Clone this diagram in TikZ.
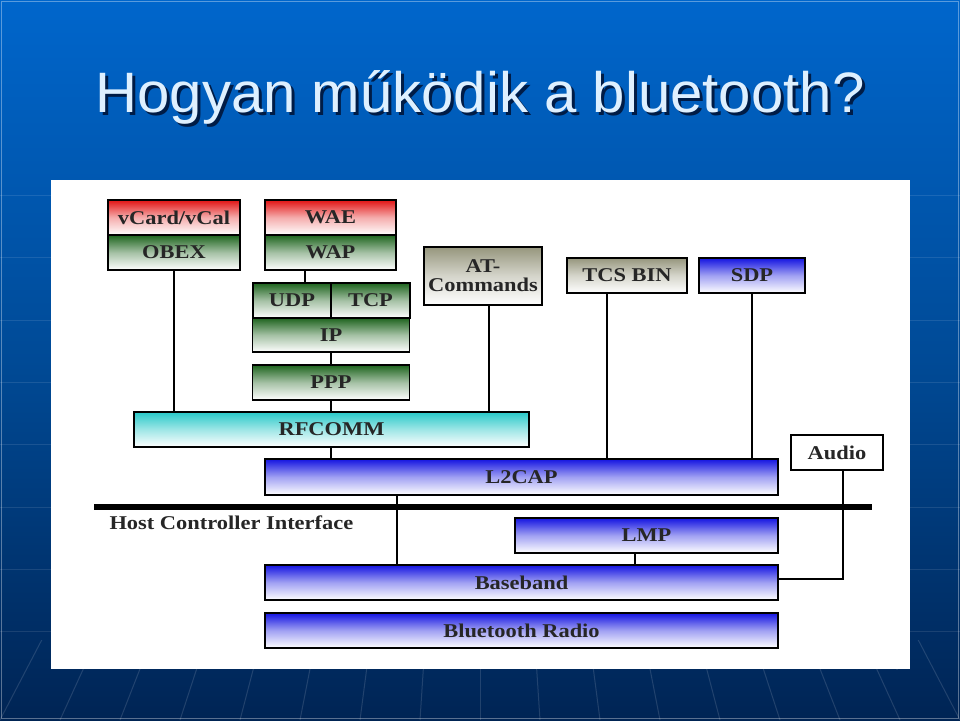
\documentclass[tikz,border=0pt]{standalone}
\usepackage{fontspec}
\setmainfont{Liberation Serif}
\newfontfamily\titlefont[FakeStretch=1.02]{Liberation Sans}
\newfontfamily\layerfont[FakeStretch=1.15]{Liberation Serif}
\usetikzlibrary{positioning}

\definecolor{slidetop}{RGB}{0,102,204}
\definecolor{slidemid}{RGB}{0,74,150}
\definecolor{slidebot}{RGB}{0,36,84}
\definecolor{titletext}{RGB}{222,240,255}
\definecolor{titleshadow}{RGB}{0,28,70}
\definecolor{layerred}{RGB}{226,20,20}
\definecolor{layergreen}{RGB}{30,100,30}
\definecolor{layerblue}{RGB}{20,20,225}
\definecolor{layercyan}{RGB}{40,200,200}
\definecolor{layergray}{RGB}{150,150,125}

\tikzstyle{layer} = [draw=black, line width=1.5pt, outer sep=0pt, inner sep=0pt,
  font=\layerfont\fontsize{19.5}{21}\selectfont\bfseries, text=black!85, align=center]
\tikzstyle{redlayer} = [layer, top color=layerred, bottom color=white, middle color=layerred!35]
\tikzstyle{greenlayer} = [layer, top color=layergreen, bottom color=white, middle color=layergreen!40]
\tikzstyle{bluelayer} = [layer, top color=layerblue, bottom color=white, middle color=layerblue!40]
\tikzstyle{cyanlayer} = [layer, top color=layercyan, bottom color=white, middle color=layercyan!45]
\tikzstyle{graylayer} = [layer, top color=layergray, bottom color=white, middle color=layergray!40]
\tikzstyle{plainlayer} = [layer, fill=white]
\tikzstyle{wire} = [draw=black, line width=2pt]

\begin{document}
\begin{tikzpicture}[x=1pt, y=-1pt]
%slide
\useasboundingbox (0,0) rectangle (960,720);
\shade[top color=slidetop, bottom color=slidebot, middle color=slidemid] (0,0) rectangle (960,720);
\foreach \gy in {195,257,320,382,444,507,569,631}
  \draw[white, opacity=0.1, line width=1pt] (0,\gy) -- (960,\gy);
\begin{scope}
  \clip (0,640) rectangle (960,720);
  \foreach \gx in {-480,-420,...,1440}
    \draw[white, opacity=0.13, line width=1pt] (480,-200) -- (\gx,720);
\end{scope}
\draw[white, opacity=0.35, line width=1.2pt] (1.5,1.5) rectangle (958.5,718.5);
\node[white, font=\titlefont\fontsize{14}{16}\selectfont] (pagenum) at (897,665) {6};
%title
\node[titleshadow, anchor=base, font=\titlefont\fontsize{57}{64}\selectfont] (titleshade) at (483,115) {Hogyan működik a bluetooth?};
\node[titletext, anchor=base, font=\titlefont\fontsize{57}{64}\selectfont] (title) at (480,112) {Hogyan működik a bluetooth?};
%panel
\fill[white] (51,180) rectangle (910,669);
%begin upper layers
\node[redlayer, minimum width=132pt, minimum height=35pt] (vcard) at (174,217.5) {vCard/vCal};
\node[greenlayer, minimum width=132pt, minimum height=35pt, below=0pt of vcard] (obex) {OBEX};
\node[redlayer, minimum width=131pt, minimum height=35pt] (wae) at (330.5,217.5) {WAE};
\node[greenlayer, minimum width=131pt, minimum height=35pt, below=0pt of wae] (wap) {WAP};
\node[greenlayer, minimum width=78pt, minimum height=35pt] (udp) at (292,300.5) {UDP};
\node[greenlayer, minimum width=79pt, minimum height=35pt, right=0pt of udp] (tcp) {TCP};
\node[greenlayer, minimum width=157pt, minimum height=34pt] (ip) at (331,335) {IP};
\node[greenlayer, minimum width=157pt, minimum height=35pt] (ppp) at (331,382.5) {PPP};
\node[graylayer, minimum width=118pt, minimum height=58pt] (atcmd) at (483,276) {AT-\\[-2pt]Commands};
\node[graylayer, minimum width=120pt, minimum height=35pt] (tcsbin) at (627,275.5) {TCS BIN};
\node[bluelayer, minimum width=106pt, minimum height=35pt] (sdp) at (752,275.5) {SDP};
%end upper layers
%begin middle layers
\node[cyanlayer, minimum width=395pt, minimum height=35pt] (rfcomm) at (331.5,429.5) {RFCOMM};
\node[plainlayer, minimum width=92pt, minimum height=35pt] (audio) at (837,452.5) {Audio};
\node[bluelayer, minimum width=513pt, minimum height=36pt] (l2cap) at (521.5,477) {L2CAP};
%end middle layers
%begin host controller
\coordinate (hcileft) at (94,507);
\coordinate (hciright) at (872,507);
\node[anchor=west, font=\layerfont\fontsize{19.5}{21}\selectfont\bfseries, text=black!85] (hci) at (106,523) {Host Controller Interface};
\node[bluelayer, minimum width=263pt, minimum height=35pt] (lmp) at (646.5,535.5) {LMP};
\node[bluelayer, minimum width=513pt, minimum height=35pt] (baseband) at (521.5,582.5) {Baseband};
\node[bluelayer, minimum width=513pt, minimum height=35pt] (radio) at (521.5,630.5) {Bluetooth Radio};
%end host controller
%begin wires
\draw[wire] (obex.south) -- (obex.south |- rfcomm.north);
\draw[wire] ([xshift=-25.5pt]wap.south) -- ([xshift=-25.5pt]wap.south |- udp.north);
\draw[wire] (ip.south) -- (ppp.north);
\draw[wire] (ppp.south) -- (ppp.south |- rfcomm.north);
\draw[wire] ([xshift=6pt]atcmd.south) -- ([xshift=6pt]atcmd.south |- rfcomm.north);
\draw[wire] ([xshift=-20pt]tcsbin.south) -- ([xshift=-20pt]tcsbin.south |- l2cap.north);
\draw[wire] (sdp.south) -- (sdp.south |- l2cap.north);
\draw[wire] ([xshift=-0.5pt]rfcomm.south) -- ([xshift=-0.5pt]rfcomm.south |- l2cap.north);
\draw[wire] ([xshift=-124.5pt]l2cap.south) -- ([xshift=-124.5pt]l2cap.south |- baseband.north);
\draw[wire] ([xshift=-11.5pt]lmp.south) -- ([xshift=-11.5pt]lmp.south |- baseband.north);
\draw[wire] ([xshift=6pt]audio.south) |- ([yshift=4pt]baseband.east);
\draw[line width=5.5pt] (hcileft) -- (hciright);
%end wires
\end{tikzpicture}
\end{document}
